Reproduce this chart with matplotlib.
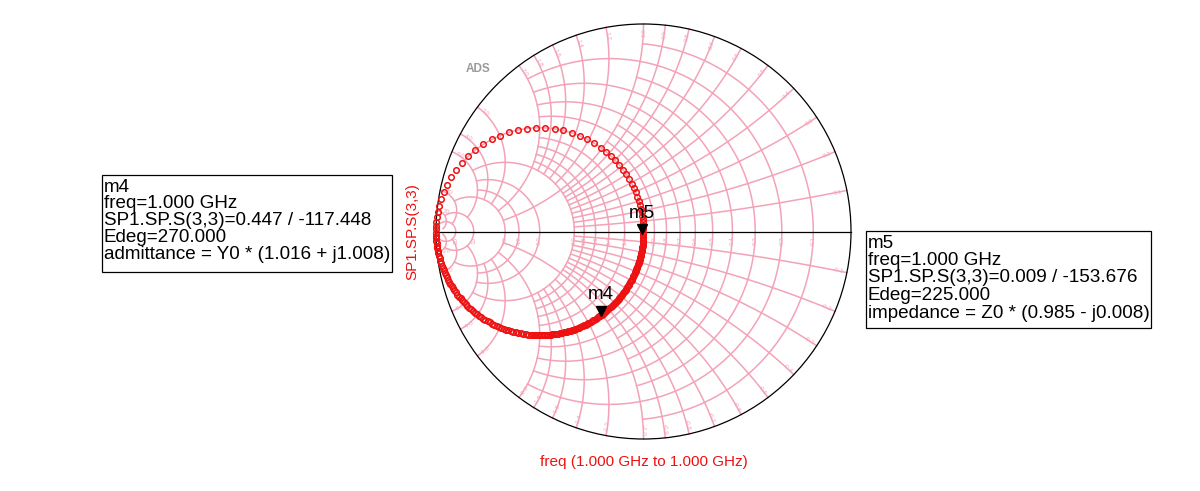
import numpy as np
import matplotlib.pyplot as plt
from matplotlib.patches import Circle, Rectangle

plt.rcParams['font.family'] = ['Liberation Sans', 'DejaVu Sans']

# admittance grid: value of the circle/arc and how far it is drawn
g_values = [0.1, 0.2, 0.3, 0.4, 0.5, 0.6, 0.7, 0.8, 0.9, 1.0,
            1.2, 1.4, 1.6, 1.8, 2.0, 3.0, 4.0, 5.0, 10.0, 20.0]
g_limits = [1, 2, 1, 2, 1, 2, 1, 2, 1, 5,
            2, 2, 2, 2, 5, 5, 5, 10, 20, 50]
b_values = g_values
b_limits = [2, 2, 2, 2, 2, 2, 2, 2, 2, 5,
            2, 2, 2, 2, 5, 5, 5, 10, 20, 50]
tick_labels = ['0.1', '0.2', '0.3', '0.4', '0.5', '0.6', '0.7', '0.8', '0.9', '1.0',
               '1.2', '1.4', '1.6', '1.8', '2.0', '3.0', '4.0', '5.0', '10', '20']

# SP1.SP.S(3,3) trace, angle (deg) of each point around the g=1 circle
phi_upper = [1.5, 3.2, 5.0, 6.8, 8.7, 10.7, 12.8, 15.0, 17.3, 19.7, 22.2, 24.8,
             27.5, 30.4, 33.4, 36.5, 39.8, 43.2, 46.7, 50.3, 54.0, 58.3, 62.9,
             67.4, 72.1, 76.9, 81.8, 86.9, 91.9, 96.9, 102.1, 107.2, 112.4,
             117.5, 123.0, 128.4, 133.7, 138.8, 143.7, 148.6, 153.2, 157.6,
             161.8, 165.6, 169.0, 172.0, 174.6, 176.8, 178.6]
phi_lower = [-179.0, -177.6, -176.2, -174.8, -173.4, -172.0, -170.6, -169.2, -167.8,
             -166.4, -165.0, -163.6, -162.2, -160.8, -159.4, -158.0, -156.6, -155.2,
             -153.8, -152.4, -151.0, -149.6, -148.2, -146.8, -145.4, -144.0, -142.6,
             -141.2, -139.8, -138.4, -137.0, -135.6, -134.2, -132.8, -131.4, -130.0,
             -128.6, -127.2, -125.8, -124.4, -123.0, -121.6, -120.2, -118.8, -117.4,
             -116.0, -114.6, -113.2, -111.8, -110.4, -109.0, -107.6, -106.2, -104.8,
             -103.4, -102.0, -100.6, -99.2, -97.8, -96.4, -95.0,
             -94.2, -93.4, -92.6, -91.8, -91.0, -90.2, -89.4, -88.6, -87.8, -87.0,
             -86.2, -85.4, -84.6, -83.8, -83.0, -82.2, -81.4, -80.6, -79.8, -79.0,
             -78.2, -77.4, -76.6, -75.8, -75.0, -74.2, -73.4, -72.6, -71.8, -71.0,
             -70.2, -69.4, -68.6, -67.8, -67.0, -66.2, -65.4, -64.6, -63.8, -63.0,
             -62.2, -61.4, -60.6, -59.8, -59.0, -58.2, -57.4, -56.6, -55.8, -55.0,
             -54.2, -53.4, -52.6, -51.8, -51.0, -50.2, -49.4, -48.6, -47.8, -47.0,
             -46.2, -45.4, -44.6, -43.8, -43.0, -42.2, -41.4, -40.6, -39.8, -39.0,
             -38.2, -37.4, -36.6, -35.8, -35.0, -34.2, -33.4, -32.6, -31.8, -31.0,
             -30.2, -29.4, -28.6, -27.8, -27.0, -26.2, -25.4, -24.6, -23.8, -23.0,
             -22.2, -21.4, -20.6, -19.8, -19.0, -18.2, -17.4, -16.6, -15.8, -15.0,
             -14.2, -13.4, -12.6, -11.8, -11.0, -10.2, -9.4, -8.6, -7.8, -7.0,
             -6.2, -5.4, -4.6, -3.8, -3.0, -2.2, -1.4, -0.6]

# marker readouts (magnitude / angle deg)
m4_mag, m4_ang = 0.447, -117.448
m5_mag, m5_ang = 0.009, -153.676
m4_lines = ['m4', 'freq=1.000 GHz', 'SP1.SP.S(3,3)=0.447 / -117.448',
            'Edeg=270.000', 'admittance = Y0 * (1.016 + j1.008)']
m5_lines = ['m5', 'freq=1.000 GHz', 'SP1.SP.S(3,3)=0.009 / -153.676',
            'Edeg=225.000', 'impedance = Z0 * (0.985 - j0.008)']

grid_color = '#f3a3b7'
trace_color = '#ee1111'

CX, CY, R = 643.5, 231.5, 207.5


def px(x, y):
    return (x - CX) / R, (CY - y) / R


def y_to_gamma(y):
    return (1 - y) / (1 + y)


fig = plt.figure(figsize=(12, 4.91), dpi=100)
ax = fig.add_axes([0, 0, 1, 1])
ax.set_xlim(-CX / R, (1200 - CX) / R)
ax.set_ylim((CY - 491) / R, CY / R)
ax.axis('off')

# conductance circles
for g, blim in zip(g_values, g_limits):
    b = np.linspace(-blim, blim, 2000)
    gam = y_to_gamma(g + 1j * b)
    ax.plot(gam.real, gam.imag, color=grid_color, lw=1.1, zorder=1)

# susceptance arcs
for b, glim in zip(b_values, b_limits):
    g = np.linspace(0, glim, 2000)
    for s in (1, -1):
        gam = y_to_gamma(g + 1j * s * b)
        ax.plot(gam.real, gam.imag, color=grid_color, lw=1.1, zorder=1)

# tick labels on the real axis
for g, lab in zip(g_values, tick_labels):
    gx = y_to_gamma(g)
    ax.text(gx, -9 / R, lab, fontsize=4.5, color=grid_color, rotation=90,
            ha='center', va='center', zorder=2)

# tick labels round the rim
for b, lab in zip(b_values, tick_labels):
    for s, pre in ((-1, ''), (1, '-')):
        gam = y_to_gamma(1j * s * b) * (1 - 9 / R)
        ang = np.degrees(np.angle(gam))
        rot = ang + 180 if abs(ang) > 90 else ang
        ax.text(gam.real, gam.imag, pre + lab, fontsize=4.5, color=grid_color,
                rotation=rot, ha='center', va='center', zorder=2)

ax.add_patch(Circle((0, 0), 1, fill=False, ec='black', lw=0.9, zorder=3))
ax.plot([-1, 1], [0, 0], color='black', lw=0.9, zorder=3)

ax.text(*px(478, 69.5), 'ADS', fontsize=8.5, color='#999999', ha='center',
        va='center', fontweight='bold')

# trace
phi = np.radians(np.array(phi_upper + phi_lower))
ax.plot(-0.5 + 0.5 * np.cos(phi), 0.5 * np.sin(phi), 'o', ms=4.0, mfc='none',
        mec=trace_color, mew=1.1, zorder=4)

# markers
for mag, ang, name in ((m4_mag, m4_ang, 'm4'), (m5_mag, m5_ang, 'm5')):
    gx = mag * np.cos(np.radians(ang))
    gy = mag * np.sin(np.radians(ang))
    ax.plot(gx, gy + 3 / R, 'v', color='black', ms=6.5, zorder=5)
    ax.text(gx, gy + 19 / R, name, fontsize=13.5, ha='center', va='center', zorder=5)

# readout boxes
for lines, (x0, y0, x1, y1), pitch in ((m4_lines, (102, 175, 392, 272), 16.9),
                                       (m5_lines, (866, 231, 1151, 328), 17.5)):
    bx, by = px(x0, y1)
    ax.add_patch(Rectangle((bx, by), (x1 - x0) / R, (y1 - y0) / R, fill=False,
                           ec='black', lw=0.9, zorder=5))
    for i, line in enumerate(lines):
        ax.text(*px(x0 + 1.5, y0 + 12 + i * pitch), line, fontsize=13.6,
                ha='left', va='center', zorder=5)

ax.text(*px(412, 232), 'SP1.SP.S(3,3)', fontsize=11, color=trace_color,
        rotation=90, ha='center', va='center')
ax.text(*px(644, 462), 'freq (1.000 GHz to 1.000 GHz)', fontsize=11,
        color=trace_color, ha='center', va='center')

fig.savefig('out.png', dpi=100)
